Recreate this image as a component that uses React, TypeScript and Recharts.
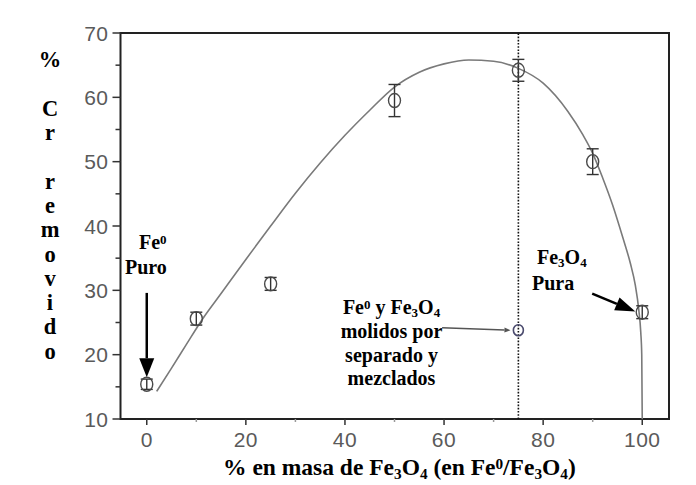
import type { CSSProperties, ReactNode } from 'react'
import { ComposedChart, ErrorBar, Line, ReferenceArea, ReferenceLine, Scatter, XAxis, YAxis } from 'recharts'

const X_DOMAIN: [number, number] = [-5.3, 105.4]
const Y_DOMAIN: [number, number] = [10, 70]
const X_TICKS = [0, 10, 20, 30, 40, 50, 60, 70, 80, 90, 100]
const X_LABELED = [0, 20, 40, 60, 80, 100]
const Y_TICKS = [10, 15, 20, 25, 30, 35, 40, 45, 50, 55, 60, 65, 70]
const Y_LABELED = [10, 20, 30, 40, 50, 60, 70]

// measured Cr removal vs. Fe3O4 mass fraction (mean and error-bar half width)
const massFe3O4 = [0, 10, 25, 50, 75, 90, 100]
const crRemoved = [15.4, 25.6, 31.0, 59.5, 64.2, 50.0, 26.6]
const crError = [0.8, 1.0, 1.0, 2.5, 1.7, 2.0, 1.0]

// Fe0 and Fe3O4 milled separately, then mixed
const mixedMass = [75]
const mixedRemoved = [23.8]

// fitted trend
const fitMass = [2, 5, 8, 11.4, 15, 20, 25, 30, 35, 40, 45, 50, 55, 60, 65, 70, 75, 80, 85, 88, 90, 92, 94, 96, 97.6, 98.6, 99.3, 99.7, 99.9, 100]
const fitRemoved = [14.3, 17.9, 21.6, 25.7, 29.5, 34.8, 40.0, 45.1, 49.8, 54.1, 58.0, 61.6, 63.9, 65.2, 65.8, 65.6, 64.5, 62.2, 57.8, 54.2, 51.3, 47.5, 43.3, 38.4, 34.2, 30.8, 27.0, 23.5, 20.0, 10.0]

// annotation arrows, [from, to] in data units
const ARROW_FE0 = [{ x: 0, y: 29.6 }, { x: 0, y: 16.5 }]
const ARROW_FE3O4 = [{ x: 89.9, y: 29.5 }, { x: 98.6, y: 26.7 }]
const ARROW_MIXED = [{ x: 59.6, y: 24.2 }, { x: 73.4, y: 23.8 }]

const Y_TITLE = ['%', '', 'C', 'r', '', 'r', 'e', 'm', 'o', 'v', 'i', 'd', 'o']

const points = massFe3O4.map((x, i) => ({ x, y: crRemoved[i], err: crError[i] }))
const mixedPoints = mixedMass.map((x, i) => ({ x, y: mixedRemoved[i] }))
const fitRows = fitMass.map((x, i) => ({ x, y: fitRemoved[i] }))

const TICK_COLOR = '#5a5a5a'
const SERIF = "'Liberation Serif', 'Times New Roman', serif"
const tickStyle = { fontFamily: 'Liberation Sans', letterSpacing: 0.5 }

const subStyle: CSSProperties = { fontSize: '0.65em', lineHeight: 0, verticalAlign: '-0.25em' }
const supStyle: CSSProperties = { fontSize: '0.65em', lineHeight: 0, verticalAlign: '0.42em' }
const Sub = ({ children }: { children: ReactNode }) => <span style={subStyle}>{children}</span>
const Sup = ({ children }: { children: ReactNode }) => <span style={supStyle}>{children}</span>

// bold serif label placed by its baseline; align 'middle' centres it on x
function Label({ x, baseline, size, align = 'start', children }: { x: number; baseline: number; size: number; align?: 'start' | 'middle'; children: ReactNode }) {
  return (
    <div
      style={{
        position: 'absolute',
        left: x,
        top: baseline - size * 0.8375,
        fontFamily: SERIF,
        fontWeight: 700,
        fontSize: size,
        lineHeight: `${size}px`,
        whiteSpace: 'nowrap',
        color: '#000',
        transform: align === 'middle' ? 'translateX(-50%)' : undefined,
      }}
    >
      {children}
    </div>
  )
}

function YTick({ x, y, payload }: any) {
  const major = Y_LABELED.includes(payload.value)
  return (
    <g>
      <line x1={x + (major ? 4 : 7)} x2={x + 12} y1={y} y2={y} stroke="#333" strokeWidth={1.5} />
      {major ? (
        <text x={x} y={y} dy={7.5} textAnchor="end" style={tickStyle} fontSize={21} fill={TICK_COLOR}>
          {payload.value}
        </text>
      ) : null}
    </g>
  )
}

function XTick({ x, y, payload }: any) {
  const major = X_LABELED.includes(payload.value)
  const top = y - 12
  return (
    <g>
      <line x1={x} x2={x} y1={top} y2={top + (major ? 6 : 3)} stroke={major ? '#333' : '#999'} strokeWidth={1.5} />
      {major ? (
        <text x={x} y={y} dy={16} textAnchor="middle" style={tickStyle} fontSize={21} fill={TICK_COLOR}>
          {payload.value}
        </text>
      ) : null}
    </g>
  )
}

function ring(props: any) {
  return <ellipse cx={props.cx} cy={props.cy} rx={6} ry={7} fill="none" stroke="#4a4a4a" strokeWidth={1.4} />
}

function smallRing(props: any) {
  return <ellipse cx={props.cx} cy={props.cy} rx={5} ry={5.5} fill="none" stroke="#4b4b6e" strokeWidth={1.6} />
}

function arrowShape(head: number, halfWidth: number, width: number, color: string) {
  return (props: any) => {
    const { x1, y1, x2, y2 } = props
    const dx = x2 - x1
    const dy = y2 - y1
    const len = Math.hypot(dx, dy) || 1
    const ux = dx / len
    const uy = dy / len
    const bx = x2 - ux * head
    const by = y2 - uy * head
    return (
      <g>
        <line x1={x1} y1={y1} x2={bx} y2={by} stroke={color} strokeWidth={width} />
        <polygon
          points={`${x2},${y2} ${bx - uy * halfWidth},${by + ux * halfWidth} ${bx + uy * halfWidth},${by - ux * halfWidth}`}
          fill={color}
        />
      </g>
    )
  }
}

export default function App() {
  return (
    <div style={{ position: 'absolute', left: 0, top: 0, width: 696, height: 485, overflow: 'hidden', background: '#fff' }}>
      <ComposedChart width={696} height={485} margin={{ top: 33, right: 27, bottom: 26, left: 0 }}>
        <XAxis
          type="number"
          dataKey="x"
          domain={X_DOMAIN}
          ticks={X_TICKS}
          interval={0}
          allowDataOverflow
          axisLine={false}
          tickLine={false}
          tickSize={6}
          tickMargin={6}
          height={40}
          tick={<XTick />}
        />
        <YAxis
          type="number"
          domain={Y_DOMAIN}
          ticks={Y_TICKS}
          interval={0}
          allowDataOverflow
          axisLine={false}
          tickLine={false}
          tickSize={8}
          tickMargin={4}
          width={120.5}
          tick={<YTick />}
        />
        <ReferenceArea
          x1={X_DOMAIN[0]}
          x2={X_DOMAIN[1]}
          y1={Y_DOMAIN[0]}
          y2={Y_DOMAIN[1]}
          fill="none"
          fillOpacity={0}
          stroke="#222"
          strokeWidth={2}
          ifOverflow="visible"
        />
        <ReferenceLine x={75} stroke="#111" strokeWidth={1.6} strokeDasharray="1.6 1.6" />
        <Line
          data={fitRows}
          dataKey="y"
          type="monotone"
          stroke="#7a7a7a"
          strokeWidth={1.6}
          dot={false}
          activeDot={false}
          isAnimationActive={false}
        />
        <Scatter data={points} dataKey="y" shape={ring} isAnimationActive={false}>
          <ErrorBar dataKey="err" direction="y" width={6} stroke="#333" strokeWidth={1.4} isAnimationActive={false} />
        </Scatter>
        <Scatter data={mixedPoints} dataKey="y" shape={smallRing} isAnimationActive={false} />
        <ReferenceLine segment={ARROW_FE0} shape={arrowShape(19, 7.5, 2.5, '#000')} />
        <ReferenceLine segment={ARROW_FE3O4} shape={arrowShape(20, 7, 2.5, '#000')} />
        <ReferenceLine segment={ARROW_MIXED} shape={arrowShape(6, 2.5, 1.5, '#555')} />
      </ComposedChart>

      {Y_TITLE.map((ch, i) =>
        ch ? (
          <Label key={i} x={50} baseline={68 + i * 24.3} size={22.5} align="middle">
            {ch}
          </Label>
        ) : null,
      )}

      <Label x={223} baseline={476} size={23.5}>
        % en masa de Fe<Sub>3</Sub>O<Sub>4</Sub> (en Fe<Sup>0</Sup>/Fe<Sub>3</Sub>O<Sub>4</Sub>)
      </Label>

      <Label x={139} baseline={249} size={20}>
        Fe<Sup>0</Sup>
      </Label>
      <Label x={125} baseline={274} size={20}>
        Puro
      </Label>

      <Label x={537} baseline={264} size={20}>
        Fe<Sub>3</Sub>O<Sub>4</Sub>
      </Label>
      <Label x={532} baseline={290} size={20}>
        Pura
      </Label>

      <Label x={391.5} baseline={314} size={20} align="middle">
        Fe<Sup>0</Sup> y Fe<Sub>3</Sub>O<Sub>4</Sub>
      </Label>
      <Label x={391.5} baseline={338} size={20} align="middle">
        molidos por
      </Label>
      <Label x={391.5} baseline={362} size={20} align="middle">
        separado y
      </Label>
      <Label x={391.5} baseline={385} size={20} align="middle">
        mezclados
      </Label>
    </div>
  )
}
